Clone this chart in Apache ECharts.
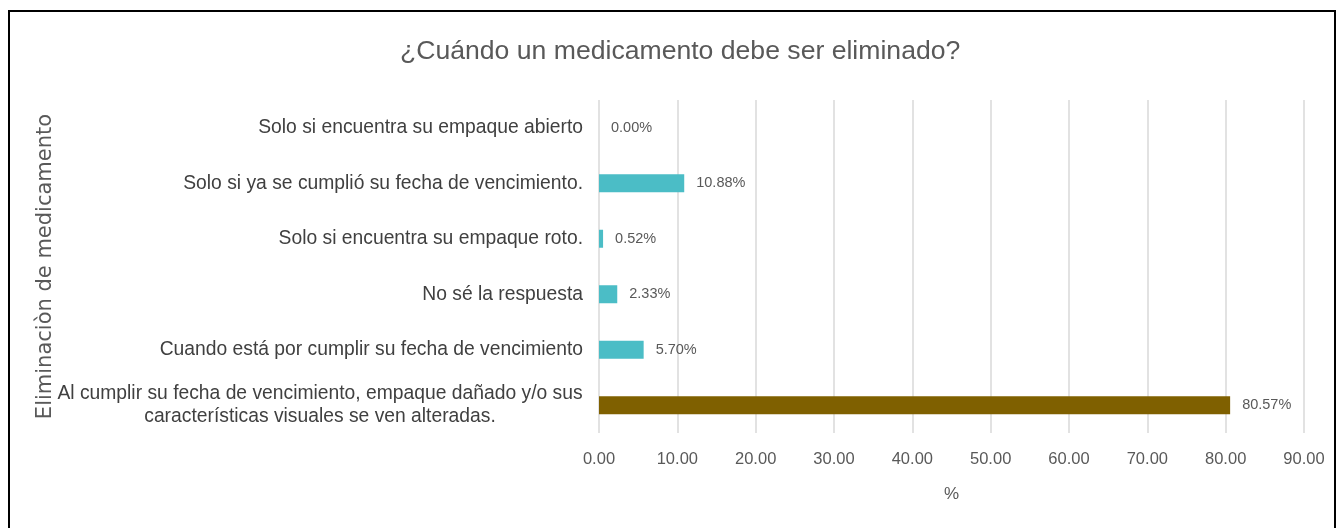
<!DOCTYPE html>
<html>
<head>
<meta charset="utf-8">
<script src="https://cdn.jsdelivr.net/npm/echarts@6/dist/echarts.min.js"></script>
<style>
    html, body { margin: 0; padding: 0; background: #fff; }
    #frame { position: absolute; left: 8px; top: 10px; width: 1328px; height: 530px; border: 2px solid #000; box-sizing: border-box; }
    #chart { position: absolute; left: 0; top: 0; width: 1338px; height: 528px; }
</style>
</head>
<body>
<div id="chart"></div>
<div id="frame"></div>
<script>
const categories = [
    'Solo si encuentra su empaque abierto',
    'Solo si ya se cumplió su fecha de vencimiento.',
    'Solo si encuentra su empaque roto.',
    'No sé la respuesta',
    'Cuando está por cumplir su fecha de vencimiento',
    'Al cumplir su fecha de vencimiento, empaque dañado y/o sus\ncaracterísticas visuales se ven alteradas.'
];
const values = [0.00, 10.88, 0.52, 2.33, 5.70, 80.57];
const barColors = ['#4BBDC6', '#4BBDC6', '#4BBDC6', '#4BBDC6', '#4BBDC6', '#7F6000'];

const font = '"Liberation Sans Narrow", "Liberation Sans", Arial, sans-serif';

let myChart = echarts.init(document.getElementById('chart'));
let option = {
    textStyle: { fontFamily: font },
    title: {
        text: '¿Cuándo un medicamento debe ser eliminado?',
        left: 395,
        top: 33,
        textStyle: { fontFamily: font, fontSize: 26.6, fontWeight: 'normal', color: '#595959' }
    },
    grid: { left: 599, right: 34, top: 100, bottom: 95 },
    xAxis: {
        type: 'value',
        min: 0,
        max: 90,
        interval: 10,
        name: '%',
        nameLocation: 'middle',
        nameGap: 53,
        nameTextStyle: { fontFamily: font, fontSize: 17, color: '#595959' },
        axisLine: { show: false },
        axisTick: { show: false },
        axisLabel: {
            margin: 18,
            fontFamily: font, fontSize: 16.5, color: '#595959',
            formatter: v => v.toFixed(2)
        },
        splitLine: { show: true, lineStyle: { color: '#D9D9D9', width: 1.5 } }
    },
    yAxis: {
        type: 'category',
        inverse: true,
        data: categories,
        name: 'Eliminaciòn de medicamento',
        nameLocation: 'middle',
        nameGap: 543,
        nameMoveOverlap: false,
        nameRotate: 90,
        nameTextStyle: { fontFamily: '"DejaVu Sans", sans-serif', fontSize: 21, color: '#595959' },
        axisLine: { show: false },
        axisTick: { show: false },
        axisLabel: {
            margin: 16,
            fontFamily: font, fontSize: 19.3, color: '#404040', lineHeight: 23,
            formatter: (v, i) => i === categories.length - 1 ? '{c|' + v.replace('\n', '}\n{c|') + '}' : v,
            rich: { c: { width: 526, align: 'center', fontFamily: font, fontSize: 19.3, color: '#404040', lineHeight: 23 } }
        }
    },
    series: [
        {
            type: 'bar',
            barWidth: 18,
            data: values.map((v, i) => ({ value: v, itemStyle: { color: barColors[i] } })),
            label: {
                show: true,
                position: 'right',
                distance: 12,
                fontFamily: font, fontSize: 14.5, color: '#595959',
                formatter: p => p.value.toFixed(2) + '%'
            }
        }
    ]
};
myChart.setOption(option);
</script>
</body>
</html>
